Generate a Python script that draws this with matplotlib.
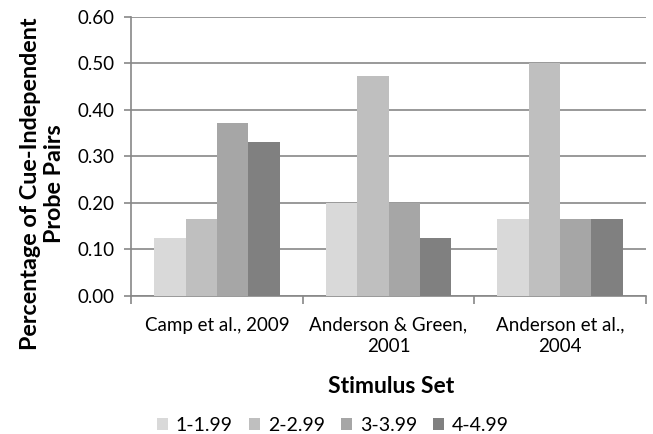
import numpy as np
import matplotlib.pyplot as plt

plt.rcParams['font.family'] = ['Lato', 'DejaVu Sans']

studies = ['Camp et al., 2009', 'Anderson & Green,\n2001', 'Anderson et al.,\n2004']
ranges = ['1-1.99', '2-2.99', '3-3.99', '4-4.99']
vals_1 = [0.125, 0.200, 0.165]
vals_2 = [0.165, 0.472, 0.500]
vals_3 = [0.372, 0.200, 0.165]
vals_4 = [0.332, 0.124, 0.165]
colors = ['#d9d9d9', '#bfbfbf', '#a6a6a6', '#808080']

series = [vals_1, vals_2, vals_3, vals_4]

fig = plt.figure(figsize=(6.53, 4.34), dpi=100)
ax = fig.add_axes([0.201, 0.318, 0.788, 0.643])

x = np.arange(len(studies))
w = 0.183
for i, (vals, c) in enumerate(zip(series, colors)):
    ax.bar(x + (i - 1.5) * w, vals, w, color=c, label=ranges[i], zorder=3)

ax.set_xlim(-0.5, 2.5)
ax.set_ylim(0, 0.6)
ax.set_yticks(np.arange(0, 0.61, 0.1))
ax.set_yticklabels(['%.2f' % v for v in np.arange(0, 0.61, 0.1)], fontsize=13.5)
ax.yaxis.grid(True, color='#878787', linewidth=1.2, zorder=0)

ax.set_xticks(x)
ax.set_xticklabels(studies, fontsize=13.5, linespacing=1.3)
ax.tick_params(axis='x', length=0, pad=15)
ax.set_xticks([-0.5, 0.5, 1.5, 2.5], minor=True)
ax.tick_params(axis='x', which='minor', length=6, color='#878787', width=1.2)
ax.tick_params(axis='y', length=5, color='#878787', width=1.2, pad=7)

for s in ['top', 'right']:
    ax.spines[s].set_visible(False)
for s in ['left', 'bottom']:
    ax.spines[s].set_color('#878787')
    ax.spines[s].set_linewidth(1.2)

# excel-style y title sits a bit below the axis middle
ax.set_ylabel('Percentage of Cue-Independent\nProbe Pairs', fontsize=16.8,
              fontweight='bold', linespacing=1.2, va='center')
ax.yaxis.set_label_coords(-0.172, 0.401)
ax.set_xlabel('Stimulus Set', fontsize=16.5, fontweight='bold', va='center')
ax.xaxis.set_label_coords(0.505, -0.3226)

fig.legend(*ax.get_legend_handles_labels(), loc='center', bbox_to_anchor=(0.51, 0.02),
           ncol=4, frameon=False, fontsize=14, handlelength=0.55, handleheight=0.55,
           handletextpad=0.4, columnspacing=0.85, borderpad=0)

fig.savefig('out.png', dpi=100)
